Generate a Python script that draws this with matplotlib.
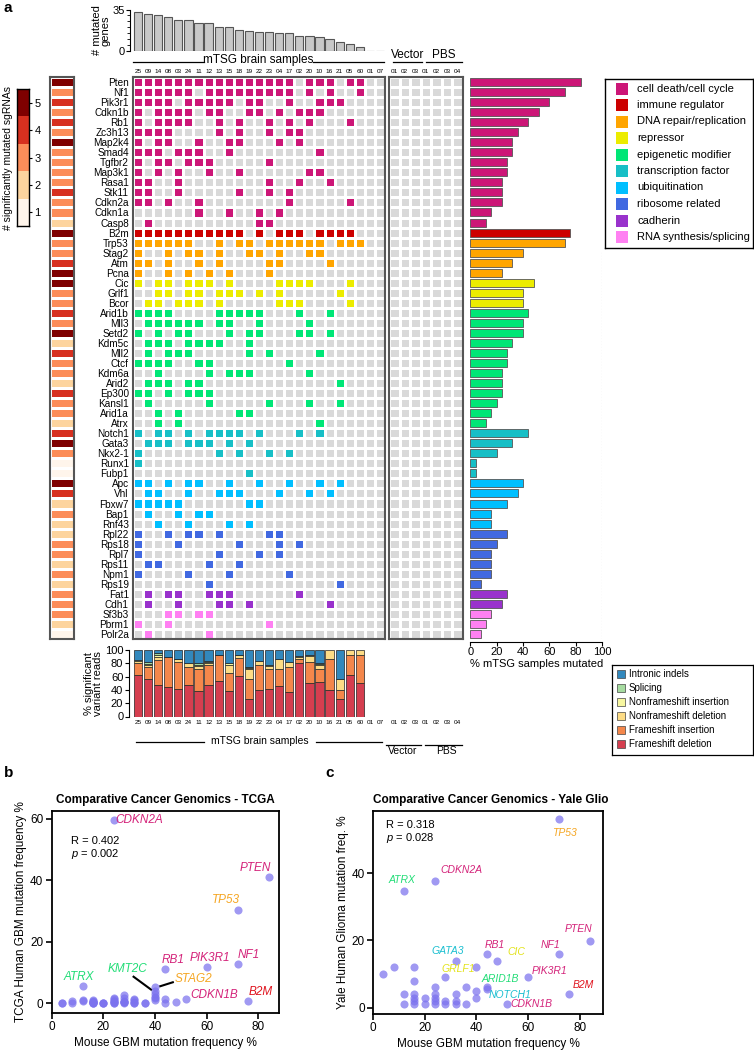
import numpy as np
import matplotlib
matplotlib.use("Agg")
import matplotlib.pyplot as plt
from matplotlib.colors import ListedColormap
from matplotlib.patches import Rectangle
from matplotlib.lines import Line2D

plt.rcParams["font.family"] = ["Liberation Sans", "DejaVu Sans"]
plt.rcParams["mathtext.fontset"] = "custom"
plt.rcParams["mathtext.it"] = "Liberation Sans:italic"
plt.rcParams["mathtext.rm"] = "Liberation Sans"

W, H = 754, 1050

# ---------------- data ----------------
samples = ["25", "09", "14", "08", "03", "24", "11", "12", "13", "15", "18", "19", "22",
           "23", "04", "17", "02", "20", "10", "16", "21", "05", "60", "01", "07"]
ctrl_samples = ["01", "02", "03", "01", "02", "03", "04"]
n_mutated_genes = [33, 31, 30, 29, 26, 26, 24, 24, 20, 20, 18, 17, 16, 16, 15, 15, 13, 13,
                   12, 10, 8, 6, 3, 0, 0]

categories = ["cell death/cell cycle", "immune regulator", "DNA repair/replication",
              "repressor", "epigenetic modifier", "transcription factor", "ubiquitination",
              "ribosome related", "cadherin", "RNA synthesis/splicing"]
cat_colors = ["#cc1677", "#cc0000", "#ffa500", "#ecec00", "#00e676", "#17bfc6",
              "#00bfff", "#4169e1", "#9932cc", "#ff80f2"]

genes = ["Pten", "Nf1", "Pik3r1", "Cdkn1b", "Rb1", "Zc3h13", "Map2k4", "Smad4", "Tgfbr2",
         "Map3k1", "Rasa1", "Stk11", "Cdkn2a", "Cdkn1a", "Casp8", "B2m", "Trp53", "Stag2",
         "Atm", "Pcna", "Cic", "Grlf1", "Bcor", "Arid1b", "Mll3", "Setd2", "Kdm5c", "Mll2",
         "Ctcf", "Kdm6a", "Arid2", "Ep300", "Kansl1", "Arid1a", "Atrx", "Notch1", "Gata3",
         "Nkx2-1", "Runx1", "Fubp1", "Apc", "Vhl", "Fbxw7", "Bap1", "Rnf43", "Rpl22",
         "Rps18", "Rpl7", "Rps11", "Npm1", "Rps19", "Fat1", "Cdh1", "Sf3b3", "Pbrm1", "Polr2a"]
gene_cat = [0] * 15 + [1] + [2] * 4 + [3] * 3 + [4] * 12 + [5] * 5 + [6] * 5 + [7] * 6 + [8] * 2 + [9] * 3
n_sig_sgrna = [5, 3, 4, 3, 4, 3, 5, 3, 3, 3, 3, 4, 3, 3, 2, 5, 3, 3, 4, 5, 5, 3, 3,
               4, 3, 5, 2, 4, 3, 3, 2, 4, 3, 3, 2, 4, 5, 3, 1, 1, 5, 4, 2, 3, 2,
               2, 3, 3, 2, 3, 2, 3, 3, 3, 2, 1]
pct_mutated = [84, 72, 60, 52, 44, 36, 32, 32, 28, 28, 24, 24, 24, 16, 12, 76, 72, 40, 32, 24,
               48, 40, 40, 44, 40, 40, 32, 28, 28, 24, 24, 24, 20, 16, 12, 44, 32, 20, 4, 4,
               40, 36, 28, 16, 16, 28, 20, 16, 16, 16, 8, 28, 24, 16, 12, 8]

# mutated sample columns (index into samples) for each gene
mutated = [
    list(range(16)) + [17, 18, 19, 21, 22],          # Pten
    [0, 1, 2, 3, 4, 5, 7, 8, 9, 10, 11, 12, 13, 14, 15, 17, 19, 22],
    [0, 1, 2, 3, 5, 6, 7, 8, 9, 11, 12, 15, 18, 19, 20],
    [0, 2, 3, 4, 5, 7, 8, 11, 12, 14, 16, 17, 18],
    [0, 2, 3, 4, 5, 8, 10, 13, 15, 17, 21],
    [0, 1, 2, 3, 8, 10, 13, 15, 16],
    [0, 2, 3, 6, 9, 10, 14, 16],
    [0, 1, 2, 4, 5, 6, 9, 18],
    [0, 2, 3, 5, 6, 7, 13],
    [0, 2, 4, 7, 10, 17, 18],
    [0, 1, 4, 13, 16, 19],
    [0, 1, 4, 10, 13, 15],
    [0, 1, 3, 6, 15, 21],
    [6, 9, 12, 14],
    [1, 12, 13],
    list(range(11)) + [12, 14, 15, 16, 18, 19, 20, 21],   # B2m
    [0, 1, 2, 3, 4, 5, 8, 10, 11, 13, 14, 15, 16, 17, 18, 20, 21, 22],
    [0, 3, 5, 6, 8, 11, 12, 14, 17, 18],
    [0, 1, 3, 6, 8, 13, 14, 19],
    [0, 3, 5, 7, 9, 13],
    [0, 2, 3, 5, 6, 7, 9, 14, 15, 16, 17, 21],
    [2, 3, 5, 6, 8, 9, 10, 12, 14, 20],
    [1, 2, 4, 5, 6, 8, 14, 15, 16, 21],
    [0, 1, 2, 3, 8, 9, 10, 11, 12, 16, 19],
    [1, 2, 3, 4, 5, 6, 8, 9, 12, 17],
    [0, 2, 4, 5, 9, 11, 12, 16, 17, 19],
    [1, 2, 3, 5, 6, 7, 8, 11],
    [1, 3, 4, 5, 11, 13, 18],
    [0, 1, 2, 3, 6, 7, 15],
    [2, 7, 9, 10, 11, 17],
    [1, 2, 3, 5, 6, 20],
    [0, 1, 3, 5, 6, 7],
    [1, 7, 13, 17, 20],
    [2, 4, 10, 11],
    [2, 4, 18],
    [0, 2, 3, 5, 7, 8, 9, 10, 12, 16, 18],
    [1, 2, 3, 5, 6, 7, 9, 11],
    [0, 8, 10, 13, 15],
    [0],
    [11],
    [0, 1, 3, 5, 6, 9, 12, 15, 18, 20],
    [1, 2, 5, 8, 9, 10, 14, 17, 19],
    [0, 1, 2, 3, 4, 11, 12],
    [1, 4, 6, 7],
    [2, 5, 9, 11],
    [0, 3, 5, 6, 8, 13, 14],
    [0, 4, 10, 14, 16],
    [0, 8, 12, 14],
    [1, 2, 7, 10],
    [0, 5, 9, 15],
    [7, 20],
    [1, 3, 4, 7, 8, 9, 16],
    [1, 4, 8, 9, 11, 19],
    [3, 4, 6, 7],
    [0, 3, 13],
    [1, 7],
]

# % significant variant reads (mTSG samples 25 ... 60)
variant_types = ["Intronic indels", "Splicing", "Nonframeshift insertion",
                 "Nonframeshift deletion", "Frameshift insertion", "Frameshift deletion"]
variant_colors = ["#3288bd", "#a6dba0", "#f7f7a0", "#fddc85", "#f4874b", "#d53e4f"]
frameshift_del = [62, 57, 48, 45, 41, 47, 39, 48, 54, 38, 61, 27, 40, 41, 46, 37, 80, 50, 52, 40, 27, 62, 50]
frameshift_ins = [18, 17, 37, 44, 41, 27, 33, 30, 38, 27, 27, 29, 37, 30, 25, 38, 7, 32, 19, 47, 13, 31, 42]
nonframeshift_del = [3, 4, 4, 1, 4, 6, 4, 3, 1, 12, 4, 15, 6, 5, 15, 7, 3, 9, 6, 13, 16, 7, 8]
nonframeshift_ins = [2, 1, 4, 0, 1, 0, 2, 1, 0, 3, 1, 2, 0, 1, 0, 0, 1, 1, 2, 0, 0, 0, 0]
splicing = [0, 3, 3, 0, 0, 0, 3, 1, 0, 0, 0, 1, 0, 0, 0, 0, 0, 0, 2, 0, 0, 0, 0]
intronic = [15, 18, 4, 10, 13, 20, 19, 17, 7, 20, 7, 26, 17, 23, 14, 18, 9, 8, 19, 0, 44, 0, 0]

sgrna_colors = ["#fff5eb", "#fdd49e", "#fc8d59", "#d7301f", "#7f0000"]

# panel b: TCGA human GBM mutation frequency for each gene (same order as genes)
tcga_pct = [41, 12.8, 11.8, 1.2, 11, 0.2, 0.4, 0.2, 0.5, 0.4, 0.5, 0.2, 59.5, 0.3, 0.8,
            0.8, 30.4, 5.3, 1.5, 0.1, 0.4, 1.0, 2.0, 1.2, 4.0, 3.0, 1.0, 2.8, 0.3, 1.3,
            0.8, 1.8, 0.2, 0.8, 5.6, 0.2, 0.1, 0.1, 0.2, 0.1, 1.6, 0.1, 0.6, 0.5, 0.3,
            0.2, 0.1, 0.2, 0.0, 0.2, 0.8, 1.8, 0.8, 0.9, 1.0, 0.1]
b_labels = [("CDKN2A", 34, 59.5, 0), ("PTEN", 78.7, 44, 0), ("TP53", 67.5, 33.5, 2),
            ("NF1", 76.4, 15.8, 0), ("PIK3R1", 61.2, 14.7, 0), ("RB1", 46.9, 14.2, 0),
            ("ATRX", 10.5, 8.6, 4), ("KMT2C", 29.5, 11.0, 4), ("STAG2", 54.9, 7.9, 2),
            ("CDKN1B", 62.9, 2.6, 0), ("B2M", 81.0, 3.7, 1)]

# panel c: Yale glioma cohort
c_mouse = [4, 8, 12, 12, 12, 16, 16, 16, 16, 16, 16, 20, 20, 24, 24, 24, 24, 24, 24, 28, 28,
           28, 32, 32, 32, 32, 36, 36, 40, 40, 40, 44, 44, 44, 48, 52, 60, 72, 72, 76, 84]
c_yale = [9.9, 12, 34.7, 4, 1, 12, 8, 4, 3, 2, 1, 3, 1, 37.7, 6, 4, 3, 2, 1, 9, 2,
          1, 14, 4, 2, 1, 6, 1, 12, 5, 3, 15.9, 6, 5.6, 14, 1.1, 9, 56, 15.9, 4, 19.8]
c_labels = [("TP53", 74, 52, 2), ("ATRX", 11.3, 37.9, 4), ("CDKN2A", 34.4, 40.8, 0),
            ("PTEN", 79.6, 23.4, 0), ("NF1", 68.6, 18.6, 0), ("RB1", 47, 18.6, 0),
            ("CIC", 55.3, 16.4, 3), ("GATA3", 29, 16.9, 5), ("GRLF1", 33.1, 11.4, 3),
            ("PIK3R1", 68.3, 10.9, 0), ("ARID1B", 49.2, 8.5, 4), ("NOTCH1", 53.1, 3.9, 5),
            ("B2M", 81.5, 6.8, 1), ("CDKN1B", 61.2, 1.0, 0)]
label_colors = ["#d4237a", "#e0141e", "#f5a623", "#e3e31a", "#22dd77", "#1bbfd0"]

# ---------------- figure ----------------
fig = plt.figure(figsize=(W / 100, H / 100), dpi=100)


def add_px_axes(x0, y0, x1, y1):
    return fig.add_axes([x0 / W, 1 - y1 / H, (x1 - x0) / W, (y1 - y0) / H])


def ftext(x, y, s, **kw):
    return fig.text(x / W, 1 - y / H, s, **kw)


def fline(x0, x1, y, lw=0.9):
    fig.add_artist(Line2D([x0 / W, x1 / W], [1 - y / H, 1 - y / H], color="black", lw=lw))


n_genes = len(genes)
n_s = len(samples)
grey = "#d9d9d9"
frame = "#555555"

# main mutation matrix
mat = np.zeros((n_genes, n_s))
for g, cols in enumerate(mutated):
    mat[g, cols] = gene_cat[g] + 1
heat_cmap = ListedColormap([grey] + cat_colors)

ax = add_px_axes(133, 77, 385, 639)
ax.pcolormesh(np.arange(n_s + 1), np.arange(n_genes + 1), mat, cmap=heat_cmap,
              vmin=-0.5, vmax=10.5, edgecolors="white", linewidth=0.9)
ax.set_xlim(0, n_s)
ax.set_ylim(n_genes, 0)
ax.set_xticks([])
ax.set_yticks(np.arange(n_genes) + 0.5)
ax.set_yticklabels(genes, fontsize=7.2)
ax.tick_params(axis="y", length=0, pad=3)
for s in ax.spines.values():
    s.set_color(frame)
    s.set_linewidth(1.5)

# vector / PBS controls
axv = add_px_axes(389, 77, 462.7, 639)
axv.pcolormesh(np.arange(8), np.arange(n_genes + 1), np.zeros((n_genes, 7)),
               cmap=ListedColormap([grey]), edgecolors="white", linewidth=0.9)
axv.set_xlim(0, 7)
axv.set_ylim(n_genes, 0)
axv.set_xticks([])
axv.set_yticks([])
for s in axv.spines.values():
    s.set_color(frame)
    s.set_linewidth(1.5)

# significant sgRNA annotation column
axa = add_px_axes(50, 77, 74, 639)
axa.pcolormesh([0, 1], np.arange(n_genes + 1), np.array(n_sig_sgrna)[:, None],
               cmap=ListedColormap(sgrna_colors), vmin=0.5, vmax=5.5,
               edgecolors="white", linewidth=0.9)
axa.set_xlim(0, 1)
axa.set_ylim(n_genes, 0)
axa.set_xticks([])
axa.set_yticks([])
for s in axa.spines.values():
    s.set_color(frame)
    s.set_linewidth(1.5)

# colour key for sgRNAs
axk = add_px_axes(17, 89, 29, 226)
axk.pcolormesh([0, 1], np.arange(6), np.arange(5, 0, -1)[:, None],
               cmap=ListedColormap(sgrna_colors), vmin=0.5, vmax=5.5)
axk.set_xlim(0, 1)
axk.set_ylim(5, 0)
axk.set_xticks([])
axk.yaxis.tick_right()
axk.set_yticks(np.arange(5) + 0.5)
axk.set_yticklabels(["5", "4", "3", "2", "1"], fontsize=8)
axk.tick_params(axis="y", length=2, pad=2)
for s in axk.spines.values():
    s.set_linewidth(1.0)
ftext(8, 158, "# significantly mutated sgRNAs", rotation=90, fontsize=7.5,
      ha="center", va="center")

# top bars: number of mutated genes per sample
axt = add_px_axes(133, 9.5, 385, 51)
axt.bar(np.arange(n_s) + 0.5, n_mutated_genes, width=0.82, color="#c8c8c8",
        edgecolor=frame, linewidth=0.8)
axt.set_xlim(0, n_s)
axt.set_ylim(0, 35)
axt.set_yticks([0, 35])
axt.set_yticks(range(5, 35, 5), minor=True)
axt.set_xticks([])
axt.tick_params(axis="y", labelsize=8, length=3, pad=1)
axt.tick_params(axis="y", which="minor", length=2)
for side in ["top", "right", "bottom"]:
    axt.spines[side].set_visible(False)
axt.spines["left"].set_position(("outward", 2))
axt.set_ylabel("# mutated\ngenes", fontsize=8, labelpad=1, linespacing=0.9)

# right bars: % samples mutated
axr = add_px_axes(470.3, 77, 602, 639)
axr.barh(np.arange(n_genes) + 0.5, pct_mutated, height=0.8,
         color=[cat_colors[c] for c in gene_cat], edgecolor=frame, linewidth=0.6)
axr.set_xlim(0, 100)
axr.set_ylim(n_genes, 0)
axr.set_yticks([])
axr.set_xticks(range(0, 101, 20))
axr.tick_params(axis="x", labelsize=8, length=3, pad=1)
for side in ["top", "right", "left"]:
    axr.spines[side].set_visible(False)
axr.spines["bottom"].set_position(("outward", 2))
axr.axvline(100, ymin=0, ymax=0.69, color="#b0b0b0", ls=":", lw=0.8)
axr.set_xlabel("% mTSG samples mutated", fontsize=8, labelpad=1)

# category legend
axl = add_px_axes(605, 79, 753, 248)
axl.set_xlim(0, 148)
axl.set_ylim(169, 0)
axl.set_xticks([])
axl.set_yticks([])
for k, (lab, col) in enumerate(zip(categories, cat_colors)):
    yc = 9.5 + 16.5 * k
    axl.add_patch(Rectangle((11, yc - 6), 12, 12, facecolor=col, edgecolor="none"))
    axl.text(32, yc, lab, va="center", fontsize=8)
for s in axl.spines.values():
    s.set_linewidth(1.0)

# stacked bars: % significant variant reads
axs = add_px_axes(133, 650, 385, 716.5)
xpos = np.arange(len(frameshift_del)) + 0.5
bottom = np.zeros(len(frameshift_del))
stack = [frameshift_del, frameshift_ins, nonframeshift_del, nonframeshift_ins, splicing, intronic]
stack_colors = variant_colors[::-1]
for vals, col in zip(stack, stack_colors):
    v = np.array(vals, dtype=float)
    m = v > 0
    axs.bar(xpos[m], v[m], bottom=bottom[m], width=0.82, color=col,
            edgecolor="#222222", linewidth=0.5)
    bottom += v
axs.set_xlim(0, n_s)
axs.set_ylim(0, 100)
axs.set_yticks(range(0, 101, 20))
axs.set_xticks([])
axs.tick_params(axis="y", labelsize=8, length=3, pad=1)
for side in ["top", "right", "bottom"]:
    axs.spines[side].set_visible(False)
axs.spines["left"].set_position(("outward", 3))
axs.set_ylabel("% significant\nvariant reads", fontsize=8, labelpad=1, linespacing=0.9)

# variant legend
axl2 = add_px_axes(612, 665, 753, 755)
axl2.set_xlim(0, 141)
axl2.set_ylim(90, 0)
axl2.set_xticks([])
axl2.set_yticks([])
for k, (lab, col) in enumerate(zip(variant_types, variant_colors)):
    yc = 9.3 + 14 * k
    axl2.add_patch(Rectangle((5, yc - 4), 8, 8, facecolor=col, edgecolor="#444444", lw=0.5))
    axl2.text(17, yc, lab, va="center", fontsize=7)
for s in axl2.spines.values():
    s.set_linewidth(0.9)

# sample labels and group lines
cw = 252 / n_s
vw = 73.7 / 7
for i, lab in enumerate(samples):
    ftext(133 + cw * (i + 0.5), 71.6, lab, fontsize=4.6, ha="center", va="center")
    ftext(133 + cw * (i + 0.5), 722, lab, fontsize=4.6, ha="center", va="center")
for j, lab in enumerate(ctrl_samples):
    ftext(389 + vw * (j + 0.5), 71.6, lab, fontsize=4.6, ha="center", va="center")
    ftext(389 + vw * (j + 0.5), 722, lab, fontsize=4.6, ha="center", va="center")

fline(133, 204, 61.5)
fline(313, 384, 61.5)
ftext(258.5, 59.5, "mTSG brain samples", fontsize=8.5, ha="center", va="center")
fline(392.5, 422, 61.5)
fline(425.5, 462, 61.5)
ftext(407.5, 54.5, "Vector", fontsize=8.5, ha="center", va="center")
ftext(444, 54.5, "PBS", fontsize=8.5, ha="center", va="center")

fline(136, 204, 742)
fline(316, 382, 742)
ftext(260, 741.5, "mTSG brain samples", fontsize=7.5, ha="center", va="center")
fline(386, 420.5, 744.5)
fline(425, 462, 744.5)
ftext(403, 751.5, "Vector", fontsize=7.5, ha="center", va="center")
ftext(446, 751.5, "PBS", fontsize=7.5, ha="center", va="center")

ftext(4, 8, "a", fontsize=11, fontweight="bold", ha="left", va="center")
ftext(4, 773, "b", fontsize=11, fontweight="bold", ha="left", va="center")
ftext(325, 773, "c", fontsize=11, fontweight="bold", ha="left", va="center")

dot_color = "#7b72ee"


def style_scatter(axx):
    for s in axx.spines.values():
        s.set_linewidth(1.3)
    axx.tick_params(axis="both", labelsize=8.5, length=4, width=1.2, pad=2)
    axx.set_xticks(range(0, 81, 20))
    axx.set_xlabel("Mouse GBM mutation frequency %", fontsize=8.5, labelpad=3)


# panel b
axb = add_px_axes(51.7, 811, 279, 1012.7)
axb.scatter(pct_mutated, tcga_pct, s=34, color=dot_color, alpha=0.72, lw=0, zorder=3)
axb.set_xlim(0, 88)
axb.set_ylim(-3.1, 62.5)
axb.set_yticks([0, 20, 40, 60])
style_scatter(axb)
axb.set_ylabel("TCGA Human GBM mutation frequency %", fontsize=8.5, labelpad=2)
axb.set_title("Comparative Cancer Genomics - TCGA", fontsize=8.5, fontweight="bold", pad=6)
for name, x, y, ci in b_labels:
    axb.text(x, y, name, color=label_colors[ci], fontsize=8.5, style="italic",
             ha="center", va="center")
axb.plot([31.7, 38.5], [8.6, 4.4], color="black", lw=1.5)
axb.plot([46.9, 42.0], [6.8, 5.5], color="black", lw=1.5)
axb.text(7.4, 52.6, "R = 0.402", fontsize=8, va="center")
axb.text(7.4, 48.4, "$\\it{p}$ = 0.002", fontsize=8, va="center")

# panel c
axc = add_px_axes(373, 811, 603, 1014)
axc.scatter(c_mouse, c_yale, s=34, color=dot_color, alpha=0.72, lw=0, zorder=3)
axc.set_xlim(0, 89)
axc.set_ylim(-1.9, 58.5)
axc.set_yticks([0, 20, 40])
style_scatter(axc)
axc.set_ylabel("Yale Human Glioma mutation freq. %", fontsize=8.5, labelpad=2)
axc.set_title("Comparative Cancer Genomics - Yale Glio", fontsize=8.5, fontweight="bold",
              pad=6, loc="left")
for name, x, y, ci in c_labels:
    axc.text(x, y, name, color=label_colors[ci], fontsize=7.5, style="italic",
             ha="center", va="center")
axc.text(5, 54.4, "R = 0.318", fontsize=8, va="center")
axc.text(5, 50.4, "$\\it{p}$ = 0.028", fontsize=8, va="center")

fig.savefig("out.png", dpi=100)
